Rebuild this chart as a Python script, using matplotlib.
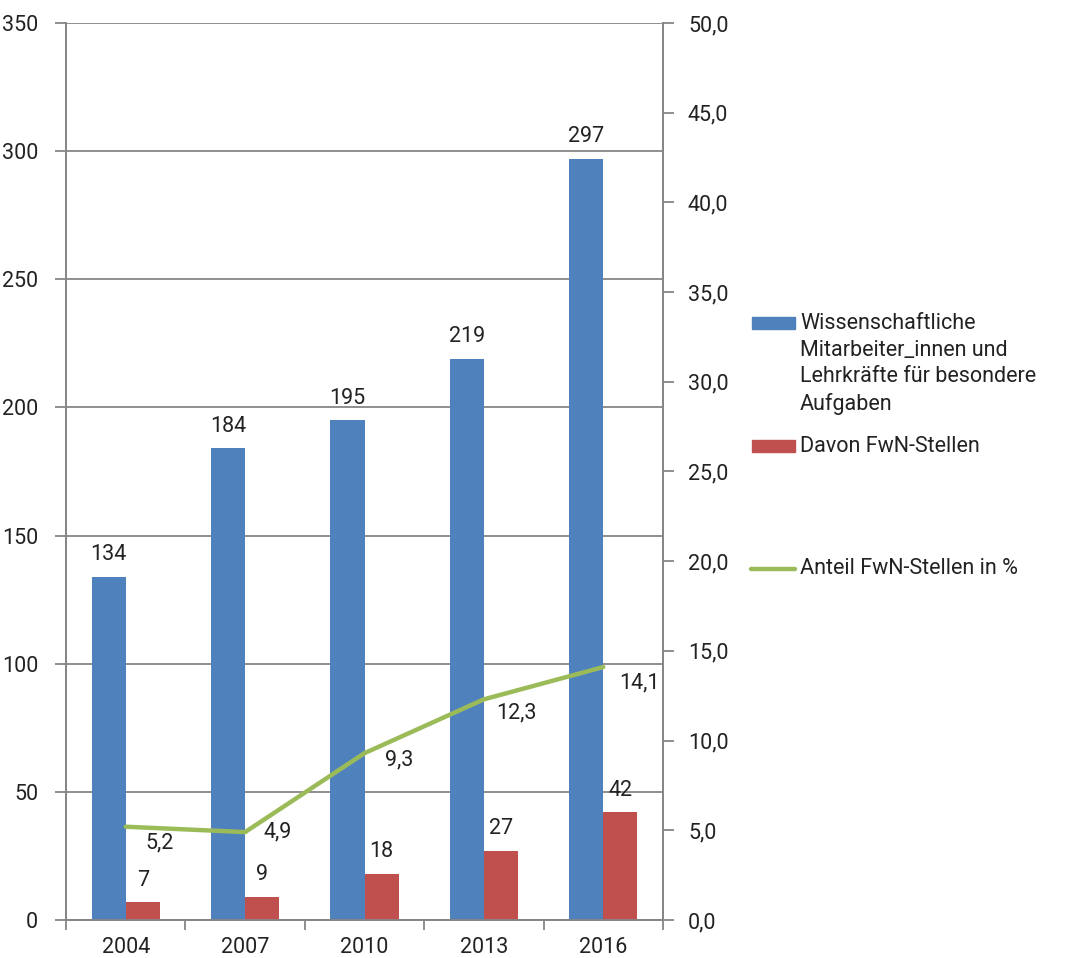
import matplotlib
matplotlib.use('Agg')
import matplotlib.pyplot as plt
import matplotlib.ticker as ticker
from matplotlib.patches import Rectangle
from matplotlib.lines import Line2D

# ── Data ──────────────────────────────────────────────────────────────────────
years = ['2004', '2007', '2010', '2013', '2016']
staff = [134, 184, 195, 219, 297]       # Wissenschaftliche Mitarbeiter_innen ...
fwn = [7, 9, 18, 27, 42]                # Davon FwN-Stellen
share = [5.2, 4.9, 9.3, 12.3, 14.1]     # Anteil FwN-Stellen in %

# per-label nudges for the line labels (pixels)
SHARE_OFFSETS = [(34, -16), (33, 0), (35, -7), (33, -14), (36, -16)]

BLUE = '#4F81BD'
RED = '#C0504D'
GREEN = '#9BBB59'
GRID = '#868686'
TEXT = '#222222'
FS = 15.5

plt.rcParams['font.family'] = ['Roboto', 'DejaVu Sans']

W, H = 1066, 958
fig = plt.figure(figsize=(W / 100, H / 100), dpi=100)
ax = fig.add_axes([66 / W, 1 - 920 / H, (663 - 66) / W, (920 - 23) / H])
ax2 = ax.twinx()

x = list(range(len(years)))
bw = 0.285
ax.bar([i - bw / 2 for i in x], staff, width=bw, color=BLUE, zorder=3)
ax.bar([i + bw / 2 for i in x], fwn, width=bw, color=RED, zorder=3)

for i, v in enumerate(staff):
    ax.annotate(str(v), (i - bw / 2, v), xytext=(0, 22), textcoords='offset pixels',
                ha='center', va='center', fontsize=FS, color=TEXT, zorder=5)
for i, v in enumerate(fwn):
    ax.annotate(str(v), (i + bw / 2, v), xytext=(0, 22), textcoords='offset pixels',
                ha='center', va='center', fontsize=FS, color=TEXT, zorder=5)

ax.set_xlim(-0.5, len(years) - 0.5)
ax.set_ylim(0, 350)
ax.yaxis.set_major_locator(ticker.MultipleLocator(50))
ax.grid(axis='y', color=GRID, linewidth=1.3, zorder=0)
ax.set_axisbelow(True)

ax.set_xticks(x)
ax.set_xticklabels(years)
ax.set_xticks([i - 0.5 for i in range(len(years) + 1)], minor=True)
ax.tick_params(axis='x', which='major', length=0, pad=12, labelsize=FS, colors=TEXT)
ax.tick_params(axis='x', which='minor', length=7, width=1.3, color=GRID)
ax.tick_params(axis='y', length=8, width=1.3, color=GRID, labelsize=FS,
               labelcolor=TEXT, pad=12)

# right axis: percentage line
ax2.plot(x, share, color=GREEN, linewidth=3.2, solid_capstyle='round', zorder=4)
for i, v in enumerate(share):
    dx, dy = SHARE_OFFSETS[i]
    ax2.annotate(f'{v:.1f}'.replace('.', ','), (i, v), xytext=(dx, dy),
                 textcoords='offset pixels', ha='center', va='center',
                 fontsize=FS, color=TEXT)
ax2.set_ylim(0, 50)
ax2.yaxis.set_major_locator(ticker.MultipleLocator(5))
ax2.yaxis.set_major_formatter(ticker.FuncFormatter(lambda v, _p: f'{v:.1f}'.replace('.', ',')))
ax2.tick_params(axis='y', length=8, width=1.3, color=GRID, labelsize=FS,
                labelcolor=TEXT, pad=10)

for a in (ax, ax2):
    a.spines['top'].set_visible(False)
    for s in ('left', 'right', 'bottom'):
        a.spines[s].set_color(GRID)
        a.spines[s].set_linewidth(1.3)

# ── Legend (drawn by hand to keep Excel-like spacing) ─────────────────────────
def fy(py):
    return 1 - py / H

fig.add_artist(Rectangle((752 / W, fy(329)), 43 / W, 12 / H,
                         transform=fig.transFigure, color=BLUE))
fig.text(800 / W, fy(313),
         'Wissenschaftliche\nMitarbeiter_innen und\nLehrkräfte für besondere\nAufgaben',
         ha='left', va='top', fontsize=FS, color=TEXT, linespacing=1.35)
fig.add_artist(Rectangle((752 / W, fy(452)), 43 / W, 12 / H,
                         transform=fig.transFigure, color=RED))
fig.text(800 / W, fy(446), 'Davon FwN-Stellen', ha='left', va='center',
         fontsize=FS, color=TEXT)
fig.add_artist(Line2D([751 / W, 795 / W], [fy(569), fy(569)],
                      transform=fig.transFigure, color=GREEN, linewidth=3.2,
                      solid_capstyle='round'))
fig.text(800 / W, fy(569), 'Anteil FwN-Stellen in %', ha='left', va='center',
         fontsize=FS, color=TEXT)

fig.savefig('out.png', dpi=100)
